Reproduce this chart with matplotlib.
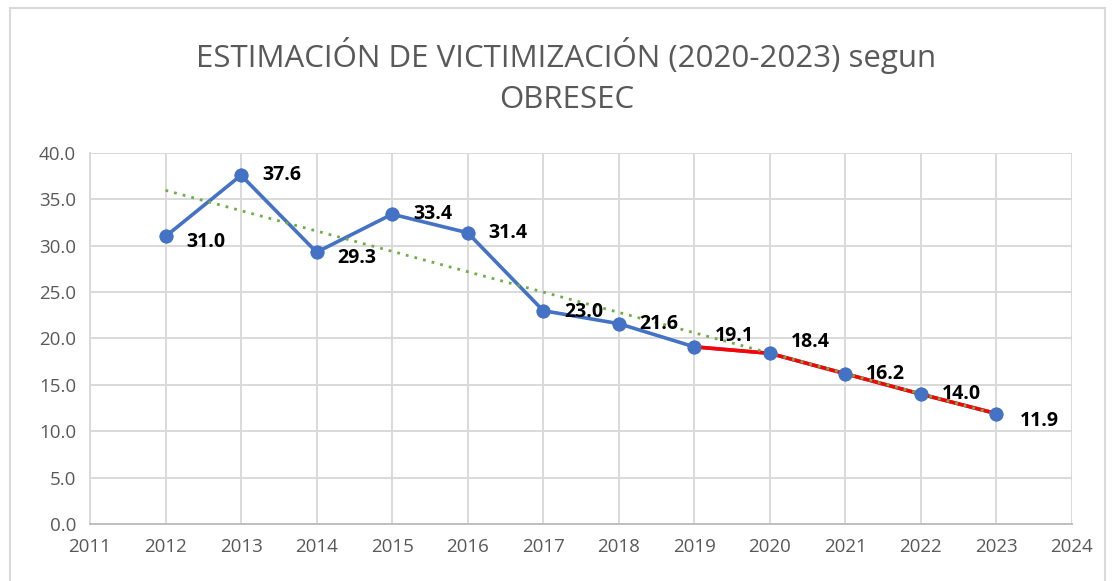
import numpy as np
import matplotlib.pyplot as plt
from matplotlib.patches import Rectangle

years = [2012, 2013, 2014, 2015, 2016, 2017, 2018, 2019, 2020, 2021, 2022, 2023]
victimizacion = [31.0, 37.6, 29.3, 33.4, 31.4, 23.0, 21.6, 19.1, 18.4, 16.2, 14.0, 11.9]
tramo_inicio = 2019  # segmento rojo 2019-2023

# desplazamiento de las etiquetas (puntos)
label_offsets = [(15, -4), (15, 0), (15, -4), (15, 0), (15, 0), (15, -1),
                 (15, 0), (15, 8), (15, 8), (15, 0), (15, 0), (17, -5)]

plt.rcParams['font.family'] = ['Open Sans', 'DejaVu Sans']

fig = plt.figure(figsize=(11.15, 5.81), dpi=100)
fig.patches.append(Rectangle((0.009, -0.01), 0.982, 0.997, transform=fig.transFigure,
                             fill=False, edgecolor='#d9d9d9', linewidth=1.5))

ax = fig.add_axes([0.0807, 0.0981, 0.8807, 0.6386])

ax.plot(years, victimizacion, color='#4472C4', linewidth=2.6, marker='o',
        markersize=9, zorder=3)

idx = years.index(tramo_inicio)
ax.plot(years[idx:], victimizacion[idx:], color='#FF0000', linewidth=2.6, zorder=4)

coef = np.polyfit(years, victimizacion, 1)
trend = np.polyval(coef, years)
ax.plot(years, trend, color='#70AD47', linewidth=2, linestyle=(0, (1, 2.2)), zorder=5)

# volver a dibujar los marcadores encima
ax.plot(years, victimizacion, color='#4472C4', linestyle='none', marker='o',
        markersize=9, zorder=6)

for x, y, off in zip(years, victimizacion, label_offsets):
    ax.annotate(f'{y:.1f}', (x, y), xytext=off, textcoords='offset points',
                ha='left', va='center', fontsize=14, fontweight='bold',
                color='black', zorder=7)

ax.set_xlim(2011, 2024)
ax.set_ylim(0, 40)
ax.set_xticks(range(2011, 2025))
ax.set_yticks(np.arange(0, 40.1, 5))
ax.set_yticklabels([f'{v:.1f}' for v in np.arange(0, 40.1, 5)])
ax.grid(True, color='#d9d9d9', linewidth=1.4)
ax.set_axisbelow(True)
for s in ['top', 'right']:
    ax.spines[s].set_visible(False)
ax.spines['left'].set_color('#d9d9d9')
ax.spines['bottom'].set_color('#bfbfbf')
ax.spines['left'].set_linewidth(1.4)
ax.spines['bottom'].set_linewidth(1.4)
ax.tick_params(length=0, labelsize=13.5, colors='#595959', pad=10)

fig.text(0.508, 0.905, 'ESTIMACIÓN DE VICTIMIZACIÓN (2020-2023) segun',
         ha='center', va='center', fontsize=22.5, color='#595959')
fig.text(0.508, 0.828, 'OBRESEC', ha='center', va='center', fontsize=22.5,
         color='#595959')

fig.savefig('out.png', dpi=100)
